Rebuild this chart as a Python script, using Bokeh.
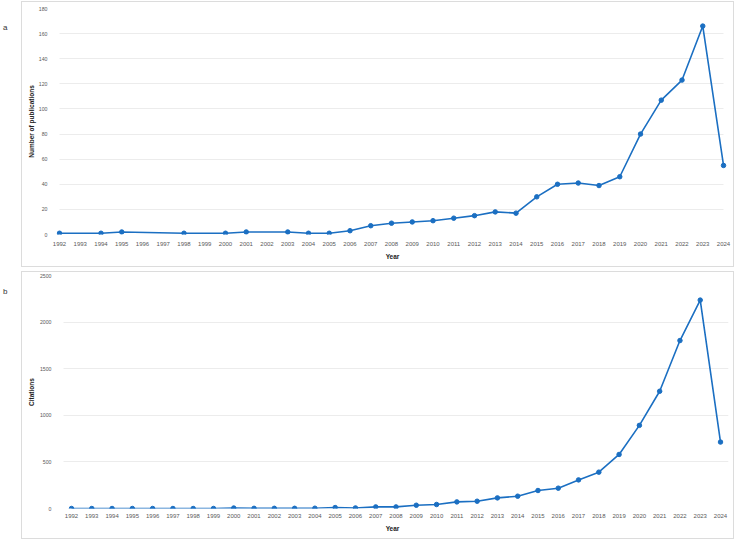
from bokeh.plotting import figure
from bokeh.layouts import column
from bokeh.models import FixedTicker, Range1d, LinearAxis
from bokeh.embed import file_html
from bokeh.resources import INLINE

tick_years = list(range(1992, 2025))

pub_years = [1992, 1994, 1995, 1998, 2000, 2001, 2003, 2004, 2005, 2006, 2007,
             2008, 2009, 2010, 2011, 2012, 2013, 2014, 2015, 2016, 2017, 2018,
             2019, 2020, 2021, 2022, 2023, 2024]
pubs = [1, 1, 2, 1, 1, 2, 2, 1, 1, 3, 7, 9, 10, 11, 13, 15, 18, 17, 30, 40, 41,
        39, 46, 80, 107, 123, 166, 55]

cit_years = list(range(1992, 2025))
citations = [0, 0, 0, 0, 0, 0, 0, 0, 5, 2, 2, 2, 3, 10, 6, 17, 17, 35, 43, 71,
             78, 114, 132, 193, 218, 307, 390, 580, 892, 1258, 1802, 2236, 713]

pub_yticks = list(range(0, 181, 20))
cit_yticks = list(range(0, 2501, 500))

BLUE = "#1b6fc2"
FONT = "Liberation Sans"
BOX = "#dcdcdc"


def panel_box(x0, y0, w, h):
    g = f"linear-gradient({BOX},{BOX})"
    return {
        "background-image": ",".join([g, g, g, g]),
        "background-repeat": "no-repeat",
        "background-size": f"{w}px 1px, {w}px 1px, 1px {h}px, 1px {h}px",
        "background-position": (f"{x0}px {y0}px, {x0}px {y0 + h - 1}px, "
                                f"{x0}px {y0}px, {x0 + w - 1}px {y0}px"),
        "background-color": "white",
    }


def style(p, yticks, ylabel, xstand, ystand, ylabstand):
    p.xgrid.grid_line_color = None
    p.ygrid.grid_line_color = "#ececec"
    p.ygrid.grid_line_width = 1
    p.outline_line_color = None
    p.border_fill_color = None
    p.background_fill_color = None
    for ax in (p.xaxis[0], p.yaxis[0]):
        ax.axis_line_color = None
        ax.major_tick_line_color = None
        ax.minor_tick_line_color = None
        ax.major_tick_out = 0
        ax.major_tick_in = 0
        ax.major_label_text_font = FONT
        ax.major_label_text_color = "#595959"
        ax.axis_label_text_font = FONT
        ax.axis_label_text_font_size = "6.5px"
        ax.axis_label_text_font_style = "bold"
        ax.axis_label_text_color = "#222222"
    p.xaxis[0].major_label_text_font_size = "6px"
    p.yaxis[0].major_label_text_font_size = "5.2px"
    p.xaxis[0].ticker = FixedTicker(ticks=tick_years)
    p.yaxis[0].ticker = FixedTicker(ticks=yticks)
    p.xaxis[0].axis_label = "Year"
    p.yaxis[0].axis_label = ylabel
    p.xaxis[0].major_label_standoff = xstand
    p.xaxis[0].axis_label_standoff = 4
    p.yaxis[0].major_label_standoff = ystand
    p.yaxis[0].axis_label_standoff = ylabstand


def letter_axis(p, pos, letter, standoff):
    ax = LinearAxis(ticker=FixedTicker(ticks=[pos]),
                    major_label_overrides={pos: letter},
                    axis_line_color=None, major_tick_line_color=None,
                    minor_tick_line_color=None, major_tick_out=0, major_tick_in=0,
                    major_label_standoff=standoff,
                    major_label_text_font=FONT, major_label_text_font_size="8px",
                    major_label_text_color="#333333")
    p.add_layout(ax, "left")


W = 740
LEFT, RIGHT = 55, 12

p1 = figure(width=W, height=270, x_range=Range1d(1991.856, 2024.24), y_range=Range1d(0, 180),
            min_border_left=LEFT, min_border_right=RIGHT, min_border_top=8, min_border_bottom=36,
            output_backend="svg", toolbar_location=None,
            styles=panel_box(21, 1, 713, 266))
style(p1, pub_yticks, "Number of publications", 7, 9, 1)
p1.ygrid.cross_bounds = (tick_years[0], tick_years[-1])
p1.line(pub_years, pubs, line_color=BLUE, line_width=1.6)
p1.scatter(pub_years, pubs, size=4.5, color=BLUE)
letter_axis(p1, 165, "a", 17)

p2 = figure(width=W, height=270, x_range=Range1d(1991.26, 2024.394), y_range=Range1d(0, 2500),
            min_border_left=LEFT, min_border_right=RIGHT, min_border_top=5, min_border_bottom=32,
            output_backend="svg", toolbar_location=None,
            styles=panel_box(21, 1, 713, 268))
style(p2, cit_yticks, "Citations", 5, 5, 2)
p2.ygrid.cross_bounds = (1991.606, 2024.394)
p2.line(cit_years, citations, line_color=BLUE, line_width=1.6)
p2.scatter(cit_years, citations, size=4.5, color=BLUE)
letter_axis(p2, 2330, "b", 17)

layout = column(p1, p2, spacing=0)
open("out.html", "w").write(file_html(layout, INLINE))
